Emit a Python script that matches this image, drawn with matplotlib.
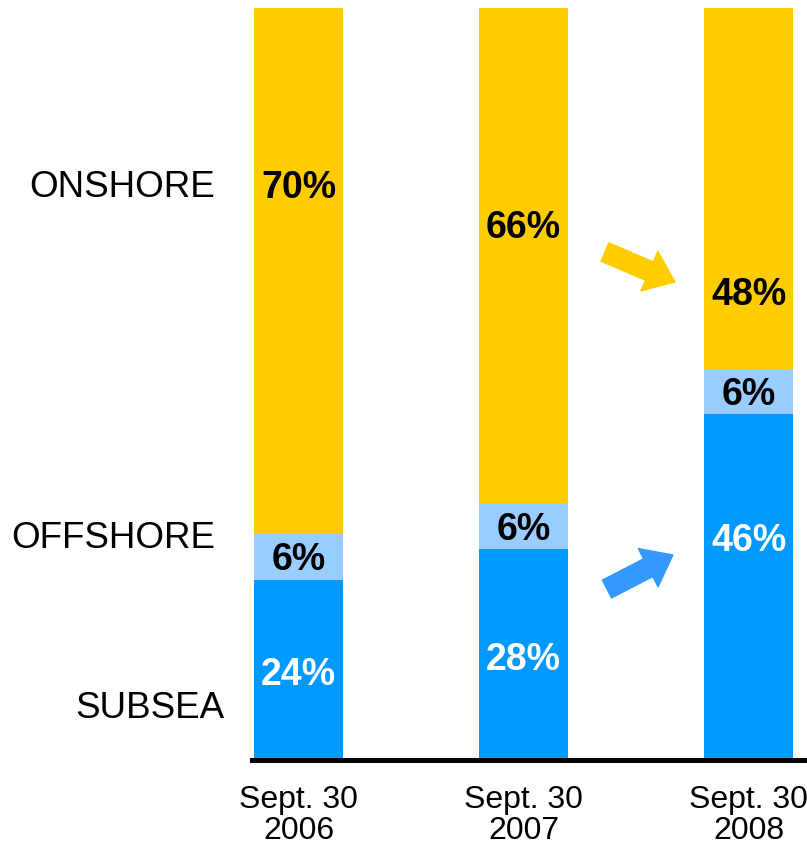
import matplotlib
matplotlib.use("Agg")
import matplotlib.pyplot as plt
from matplotlib.patches import FancyArrowPatch, ArrowStyle

plt.rcParams['font.family'] = ['Liberation Sans', 'DejaVu Sans']

# data
periods = ["Sept. 30\n2006", "Sept. 30\n2007", "Sept. 30\n2008"]
subsea = [24, 28, 46]
offshore = [6, 6, 6]
onshore = [70, 66, 48]
segments = ["ONSHORE", "OFFSHORE", "SUBSEA"]

# label heights (data units) where the original slide put them
onshore_label_y = [76.1, 70.7, 61.8]
subsea_label_y = [11.3, 13.3, 29.1]

c_on = "#FFCC00"
c_off = "#99CCFF"
c_sub = "#0099FF"

fig = plt.figure(figsize=(8.07, 8.46), dpi=100)
ax = fig.add_axes([252 / 807, 86 / 846, 555 / 807, 752 / 846])

x = list(range(len(periods)))
w = 0.396
ax.bar(x, subsea, width=w, color=c_sub)
ax.bar(x, offshore, width=w, bottom=subsea, color=c_off)
bot2 = [a + b for a, b in zip(subsea, offshore)]
ax.bar(x, onshore, width=w, bottom=bot2, color=c_on)

ax.set_xlim(-0.2067, 2.26)
ax.set_ylim(0, 100)

# percentage labels
for i in x:
    ax.text(i, onshore_label_y[i], f"{onshore[i]}%", ha="center", va="center",
            fontsize=27, fontweight="bold", color="black")
    ax.text(i, subsea[i] + offshore[i] / 2 - 0.4, f"{offshore[i]}%", ha="center", va="center",
            fontsize=27, fontweight="bold", color="black")
    ax.text(i, subsea_label_y[i], f"{subsea[i]}%", ha="center", va="center",
            fontsize=27, fontweight="bold", color="white")

# segment names on the left
ax.text(-0.371, 76.1, segments[0], ha="right", va="center", fontsize=26.5, clip_on=False)
ax.text(-0.371, 29.5, segments[1], ha="right", va="center", fontsize=26.5, clip_on=False)
ax.text(-0.327, 6.9, segments[2], ha="right", va="center", fontsize=26.5, clip_on=False)

# arrows
style = ArrowStyle("Simple", head_length=20, head_width=31, tail_width=14.4)
ax.add_patch(FancyArrowPatch((1.362, 67.55), (1.673, 63.56), arrowstyle=style,
                             mutation_scale=1, color=c_on, shrinkA=0, shrinkB=0, clip_on=False))
ax.add_patch(FancyArrowPatch((1.371, 22.74), (1.664, 27.26), arrowstyle=style,
                             mutation_scale=1, color="#3399FF", shrinkA=0, shrinkB=0, clip_on=False))

# axes styling
for s in ["top", "left", "right"]:
    ax.spines[s].set_visible(False)
ax.spines["bottom"].set_linewidth(3.6)
ax.spines["bottom"].set_color("black")
ax.set_yticks([])
ax.set_xticks(x)
ax.set_xticklabels(periods, fontsize=23, linespacing=1.05)
ax.tick_params(axis="x", length=0, pad=18)

fig.savefig("out.png", dpi=100)
